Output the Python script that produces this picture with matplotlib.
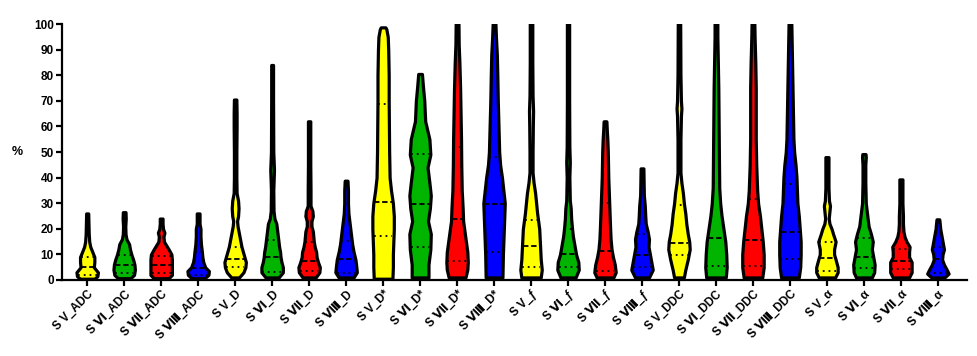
import numpy as np
import matplotlib
matplotlib.use("Agg")
import matplotlib.pyplot as plt

plt.rcParams['font.family'] = ['Liberation Sans', 'DejaVu Sans']
plt.rcParams['font.weight'] = 'bold'

# categories (x tick labels)
labels = [
    'S V_ADC', 'S Ⅵ_ADC', 'S Ⅶ_ADC', 'S Ⅷ_ADC',
    'S V_D', 'S Ⅵ_D', 'S Ⅶ_D', 'S Ⅷ_D',
    'S V_D*', 'S Ⅵ_D*', 'S Ⅶ_D*', 'S Ⅷ_D*',
    'S V_ƒ', 'S Ⅵ_ƒ', 'S Ⅶ_ƒ', 'S Ⅷ_ƒ',
    'S V_DDC', 'S Ⅵ_DDC', 'S Ⅶ_DDC', 'S Ⅷ_DDC',
    'S V_α', 'S Ⅵ_α', 'S Ⅶ_α', 'S Ⅷ_α',
]
group_colors = ['#FFFF00', '#00B400', '#FF0000', '#0000FF']

# density profiles: y values (%) and relative density
prof_y = [
    [0.5, 1.5, 3, 5, 7, 9, 11, 13, 15, 18, 22, 26],
    [0.7, 2, 4, 6, 8, 10, 12, 14, 16, 18, 21, 24, 26.5],
    [0.7, 2, 5, 8, 10, 12, 13.5, 15, 17, 18.5, 20, 22, 24],
    [0.7, 2, 3.5, 5, 7, 9, 11, 14, 17, 20, 22, 26],
    [1, 3, 5, 7, 9, 11, 13, 15, 18, 21, 23, 25, 28, 31, 34, 40, 50, 60, 65, 70.5],
    [1, 3, 5, 7, 9, 11, 13, 16, 19, 22, 24, 27, 35, 43, 50, 70, 84],
    [1, 3, 5, 7, 9, 11, 13, 15, 17, 19, 21, 23, 25, 27, 29, 35, 45, 55, 62],
    [1, 3, 5, 8, 11, 14, 17, 20, 23, 26, 30, 35, 38.8],
    [0.5, 5, 10, 15, 20, 25, 30, 35, 40, 50, 60, 70, 80, 90, 95, 98, 98.7],
    [1, 6, 12, 18, 23, 28, 33, 38, 44, 49, 55, 62, 70, 76, 80.5],
    [1, 4, 7, 11, 15, 19, 23, 28, 35, 45, 55, 65, 75, 85, 92, 100],
    [1, 10, 20, 25, 30, 35, 40, 45, 50, 60, 70, 80, 88, 95, 100],
    [1, 4, 8, 12, 16, 20, 23, 26, 30, 34, 38, 42, 50, 60, 66, 72, 85, 100],
    [1, 4, 7, 10, 13, 17, 20, 24, 28, 31, 40, 46, 52, 70, 100],
    [1, 3, 6, 9, 12, 16, 20, 25, 30, 35, 40, 45, 50, 55, 58, 62],
    [1, 4, 7, 10, 13, 16, 19, 22, 25, 29, 33, 38, 43.6],
    [1, 4, 8, 12, 15, 18, 22, 26, 30, 34, 38, 42, 55, 64, 67, 70, 80, 100],
    [1, 5, 10, 15, 20, 25, 30, 36, 45, 55, 65, 75, 85, 95, 100],
    [1, 5, 10, 15, 20, 25, 30, 35, 40, 45, 55, 65, 75, 85, 95, 100],
    [1, 5, 10, 15, 20, 25, 30, 35, 40, 45, 50, 55, 65, 75, 85, 95, 100],
    [1, 3, 5, 8, 10, 12, 15, 18, 20, 22, 24, 27, 29, 31, 36, 42, 48],
    [1, 3, 6, 9, 12, 15, 18, 21, 24, 27, 30, 38, 45, 48, 49.2],
    [1, 3, 5, 7, 9, 11, 13, 15, 17, 19, 22, 25, 30, 35, 39.3],
    [1, 2.5, 4, 6, 8, 10, 12, 14, 16, 18, 20, 22, 23.7],
]
prof_d = [
    [14, 20, 21, 13, 14, 14, 10, 6, 4, 3, 2.5, 2],
    [14, 22, 24, 23, 20, 16, 13, 11, 5, 3, 2.5, 3.5, 3],
    [16, 23, 23, 23, 22, 16, 11, 6, 5, 7, 4, 3, 3],
    [14, 22, 23, 15, 11, 9, 8, 6, 5, 5, 3, 3],
    [8, 17, 21, 22, 19, 16, 13, 11, 8, 5, 4, 6, 7, 6, 3, 2.5, 2.5, 3, 3, 2.5],
    [14, 23, 23, 20, 18, 17, 15, 13, 11, 9, 5, 3, 2.5, 4, 2.5, 2, 2],
    [14, 22, 23, 19, 16, 15, 12, 10, 9, 8, 5, 5, 8, 7, 3, 3, 2.5, 2.5, 2.5],
    [16, 23, 22, 20, 16, 13, 11, 9, 7, 5, 4, 4, 3],
    [20, 21, 21, 22, 23, 23, 21, 17, 14, 13, 12.5, 12, 12, 11, 10, 7, 5],
    [18, 18, 22, 23, 17, 21, 23, 20, 16, 22, 20, 11, 9, 6, 4],
    [18, 22, 23, 22, 19, 16, 13, 12, 10, 9, 8.5, 7.5, 6.5, 5, 3.5, 3],
    [18, 19, 21, 22, 23, 20, 17, 13, 11, 9.5, 8, 7, 6, 4, 3],
    [19, 21, 19, 18, 17, 16, 14, 12, 10, 8, 5, 3, 3, 3.5, 4, 3, 2.5, 2.5],
    [17, 24, 23, 18, 15, 11, 9, 7, 6, 4, 3, 4, 3, 2.5, 2.5],
    [18, 23, 21, 17, 14, 12, 11, 10, 9, 8, 7, 6.5, 6, 5, 4, 3],
    [15, 23, 20, 17, 14, 15, 12, 8, 7, 6, 4, 3.5, 3],
    [10, 13, 18, 22, 21, 18, 15, 13, 10, 8, 5, 3, 3, 4, 5, 4, 3, 2.5],
    [21, 23, 22, 20, 16, 12, 9, 7, 6.5, 6, 5.5, 5, 4, 3, 3],
    [20, 23, 23, 21, 18, 15, 11, 9, 8, 7, 6, 6, 6, 5, 3.5, 3],
    [19, 22, 23, 23, 21, 19, 16, 15, 14, 12, 9, 7.5, 6.5, 5.5, 4.5, 3.5, 3],
    [16, 21, 21, 17, 14, 14, 17, 12, 9, 5, 3.5, 5, 6, 4, 3, 3, 3],
    [17, 22, 23, 20, 17, 19, 15, 10, 8, 6, 4, 3, 3, 4, 3.5],
    [16, 21, 21, 21, 16, 16, 17, 11, 7, 5, 4, 4, 3, 3, 3],
    [14, 23, 19, 13, 9, 10, 13, 11, 9, 7, 5, 4, 3],
]
medians = [5.2, 6.0, 6.0, 4.8, 8.3, 9.0, 7.6, 8.1, 30.3, 29.7, 23.7, 29.7,
           13.4, 10.2, 11.5, 9.9, 14.3, 16.4, 15.6, 18.9, 8.5, 8.9, 7.6, 8.1]
q1 = [2.0, 2.9, 2.9, 2.0, 5.2, 3.3, 3.6, 2.6, 17.0, 13.0, 7.6, 11.0,
      4.9, 5.2, 3.6, 4.9, 9.8, 5.5, 5.5, 8.1, 3.5, 4.6, 4.2, 2.6]
q3 = [9.0, 9.8, 9.4, 11.0, 13.0, 15.6, 14.8, 15.4, 68.7, 49.4, 51.8, 48.2,
      23.4, 19.8, 30.2, 18.0, 29.3, 38.0, 31.5, 37.4, 15.0, 16.3, 12.0, 12.8]

WIDTH = 0.58
pos = np.arange(len(labels))

fig = plt.figure(figsize=(9.77, 3.56), dpi=100)
ax = fig.add_axes([0.0635, 0.2135, 0.926, 0.719])

vpstats = []
for y, d, m in zip(prof_y, prof_d, medians):
    y = np.array(y, float)
    d = np.array(d, float)
    vpstats.append(dict(coords=y, vals=d, mean=m, median=m,
                        min=y.min(), max=y.max()))

parts = ax.violin(vpstats, positions=pos, widths=WIDTH,
                  showmeans=False, showextrema=False, showmedians=False)
for i, body in enumerate(parts['bodies']):
    body.set_facecolor(group_colors[i % 4])
    body.set_edgecolor('black')
    body.set_linewidth(2.3)
    body.set_alpha(1)
    body.set_joinstyle('round')

# median (dashed) and quartile (dotted) lines across the local violin width
for i in range(len(labels)):
    y = np.array(prof_y[i], float)
    d = np.array(prof_d[i], float)
    for val, style in ((medians[i], (0, (3, 1.5))), (q1[i], (0, (1, 2.2))),
                       (q3[i], (0, (1, 2.2)))):
        half = 0.5 * WIDTH * np.interp(val, y, d) / d.max() * 0.9
        ax.plot([i - half, i + half], [val, val], color='black', lw=1.3,
                linestyle=style, solid_capstyle='butt', dash_capstyle='butt')

ax.set_xlim(-0.68, 23.78)
ax.set_ylim(0, 100)
ax.set_yticks(np.arange(0, 101, 10))
ax.set_xticks(pos)
ax.set_xticklabels(labels, rotation=45, ha='right', rotation_mode='anchor',
                   fontsize=8.5, fontweight='bold')
for t in ax.get_yticklabels():
    t.set_fontsize(8.5)
    t.set_fontweight('bold')
ax.set_ylabel('%', rotation=0, fontsize=9, fontweight='bold', labelpad=12,
              va='center')

for s in ['top', 'right']:
    ax.spines[s].set_visible(False)
for s in ['left', 'bottom']:
    ax.spines[s].set_linewidth(1.6)
ax.tick_params(axis='both', direction='out', length=4, width=1.6, pad=2)

fig.savefig('out.png', dpi=100)
